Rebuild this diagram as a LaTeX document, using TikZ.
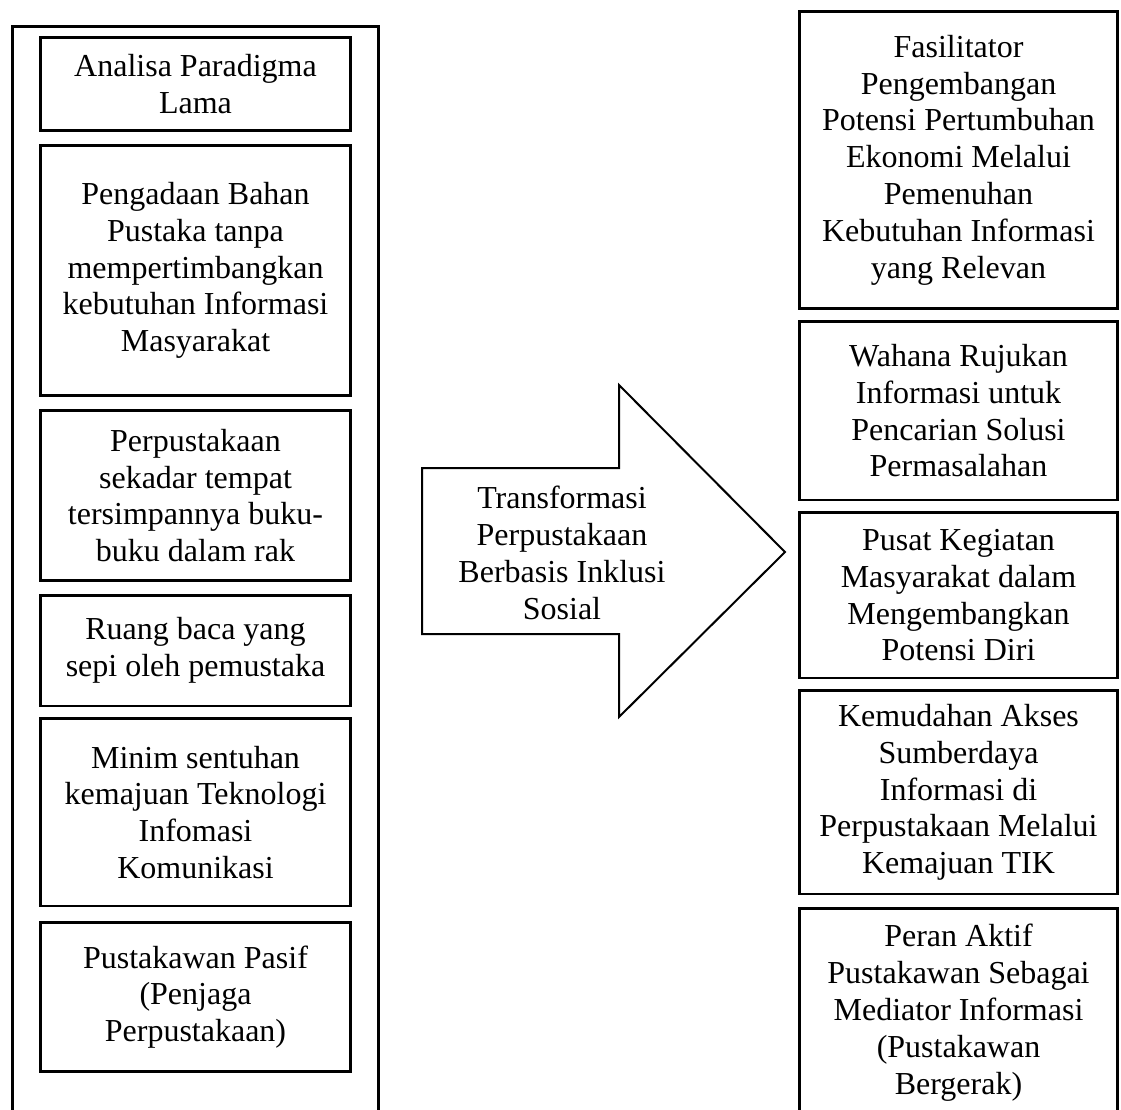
\documentclass[tikz,border=0pt]{standalone}
\usepackage{fontspec}
\setmainfont{Liberation Serif}
\usetikzlibrary{positioning}

\begin{document}
\begin{tikzpicture}[x=0.375pt, y=-0.375pt, font=\fontsize{12}{13.8}\selectfont,
    kotak/.style={draw, line width=1pt, align=center, inner sep=0pt, minimum width=116.4pt},
    kotakkanan/.style={kotak, minimum width=119.4pt}]
   \useasboundingbox (0,0) rectangle (1121,1109);
   \clip (0,0) rectangle (1121,1109);

   % Outer frame (old paradigm)
   \node[draw, line width=1.1pt, inner sep=0pt, minimum width=137.3pt, minimum height=410pt] (lama) at (195.5,573.5) {};

   % Old paradigm boxes
   \node[kotak, minimum height=35pt] (a1) at (195.5,84) {Analisa Paradigma\\Lama};
   \node[kotak, minimum height=93.9pt] (a2) [below=4.5pt of a1] {Pengadaan Bahan\\Pustaka tanpa\\mempertimbangkan\\kebutuhan Informasi\\Masyarakat};
   \node[kotak, minimum height=63.9pt] (a3) [below=4.5pt of a2] {Perpustakaan\\sekadar tempat\\tersimpannya buku-\\buku dalam rak};
   \node[kotak, minimum height=41.4pt] (a4) [below=4.5pt of a3] {Ruang baca yang\\sepi oleh pemustaka};
   \node[kotak, minimum height=70.2pt] (a5) [below=3.8pt of a4] {Minim sentuhan\\kemajuan Teknologi\\Infomasi\\Komunikasi};
   \node[kotak, minimum height=56pt] (a6) [below=5.2pt of a5] {Pustakawan Pasif\\(Penjaga\\Perpustakaan)};

   % The big arrow
   \draw[line width=0.75pt, line join=miter] (422,468) -- (619,468) -- (619,385) -- (785,552)
      -- (619,717) -- (619,634) -- (422,634) -- cycle;
   \node[align=center] (transformasi) at (562,553) {Transformasi\\Perpustakaan\\Berbasis Inklusi\\Sosial};

   % New paradigm boxes
   \node[kotakkanan, minimum height=111.5pt] (b1) at (958.5,160) {Fasilitator\\Pengembangan\\Potensi Pertumbuhan\\Ekonomi Melalui\\Pemenuhan\\Kebutuhan Informasi\\yang Relevan};
   \node[kotakkanan, minimum height=66.9pt] (b2) [below=3.8pt of b1] {Wahana Rujukan\\Informasi untuk\\Pencarian Solusi\\Permasalahan};
   \node[kotakkanan, minimum height=62pt] (b3) [below=3.8pt of b2] {Pusat Kegiatan\\Masyarakat dalam\\Mengembangkan\\Potensi Diri};
   \node[kotakkanan, minimum height=76.2pt] (b4) [below=3.8pt of b3] {Kemudahan Akses\\Sumberdaya\\Informasi di\\Perpustakaan Melalui\\Kemajuan TIK};
   \node[kotakkanan, minimum height=78pt] (b5) [below=4.5pt of b4] {Peran Aktif\\Pustakawan Sebagai\\Mediator Informasi\\(Pustakawan\\Bergerak)};
\end{tikzpicture}
\end{document}
